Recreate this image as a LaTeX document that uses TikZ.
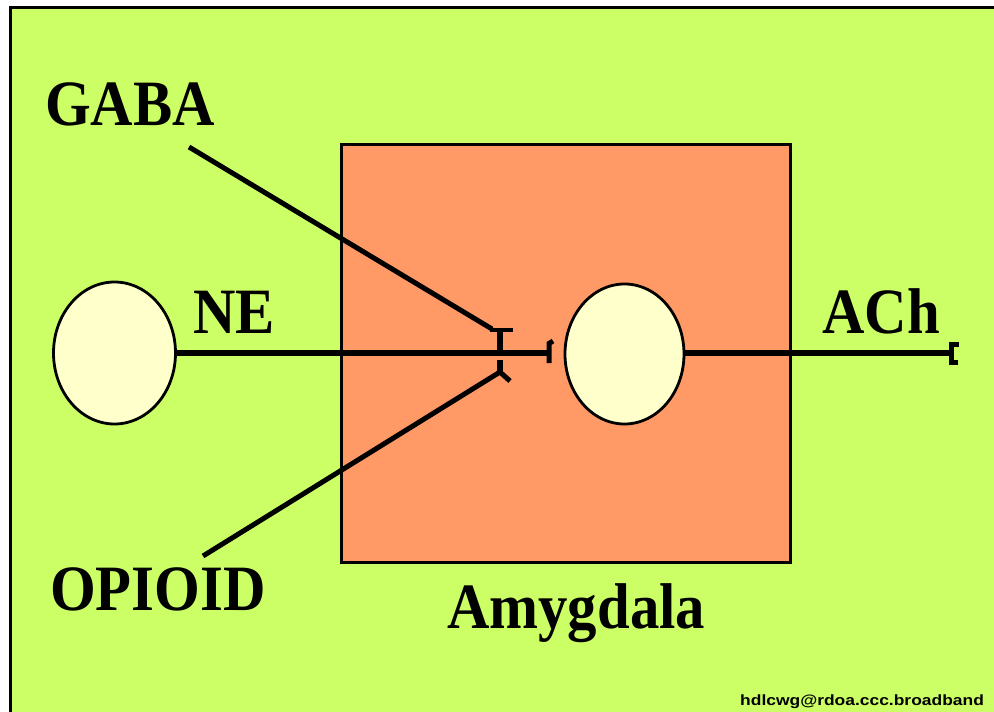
\documentclass[tikz,border=0pt]{standalone}
\usepackage{fontspec}
\setmainfont{Liberation Serif}
\setsansfont{Liberation Sans}
\usepackage{xcolor}
\usepackage{tikz}
\usetikzlibrary{positioning, calc, shapes.geometric}
\definecolor{limebg}{RGB}{204,255,102}
\definecolor{amygorange}{RGB}{255,153,102}
\definecolor{cellcream}{RGB}{255,255,204}
\newcommand{\tall}[1]{\scalebox{1}[1.1]{#1}}

\begin{document}
\begin{tikzpicture}[
  x=1bp, y=-1bp,
  lbl/.style={font=\fontsize{59}{60}\selectfont\bfseries, inner sep=0pt, anchor=base west},
  cell/.style={ellipse, draw=black, line width=2.8bp, fill=cellcream, inner sep=0pt},
  axon/.style={line width=6bp, draw=black},
  fibre/.style={line width=5bp, draw=black},
  knob/.style={line width=5bp, draw=black, line cap=butt}
]
  \useasboundingbox (0,0) rectangle (994,712);
  % background panel, frame only on top and left
  \fill[limebg] (10.5,7.5) rectangle (994,712);
  \draw[line width=3.5bp] (10.5,712) -- (10.5,7.5) -- (994,7.5);

  % amygdala region
  \node[draw=black, line width=3bp, fill=amygorange, minimum width=449bp, minimum height=417bp, inner sep=0pt] (amyg) at (565.5,353.5) {};
  \node[lbl] (amyglab) at (447,628) {\tall{Amygdala}};

  % cells
  \node[cell, minimum width=122bp, minimum height=142bp] (necell) at (114.5,353) {};
  \node[cell, minimum width=119bp, minimum height=140bp] (achcell) at (624.5,354) {};

  % terminals
  \coordinate (neend) at (549,352.5);
  \coordinate (achend) at (951.5,352.5);
  \coordinate (gabastart) at (189,147);
  \coordinate (gabaend) at (492,329);
  \coordinate (opistart) at (203,556);
  \coordinate (opiend) at (500,372);

  % NE axon onto the ACh cell
  \draw[axon] (necell.east |- neend) -- (neend);
  \draw[knob] ($(neend)+(0,10.5)$) -- ($(neend)+(0,-9)$) -- ++(4,-2.5);
  \node[lbl] (nelab) at (193,333) {\tall{NE}};

  % ACh output
  \draw[axon] (achcell.east |- achend) -- (achend);
  \draw[knob] ($(achend)+(7,-8.5)$) -- ($(achend)+(0,-8.5)$) -- ($(achend)+(0,9.5)$) -- ++(6,0);
  \node[lbl] (achlab) at (822,333) {\tall{ACh}};

  % GABA terminal on the NE axon
  \node[lbl] (gabalab) at (45,126) {\tall{GABA}};
  \draw[fibre] (gabastart) -- (gabaend);
  \draw[line width=4.5bp] ($(gabaend)+(-2,1)$) -- ++(23,0);
  \draw[axon] ($(gabaend)+(8,1)$) -- ++(0,20);

  % OPIOID terminal on the NE axon
  \node[lbl] (opilab) at (50,610) {\tall{OPIOID}};
  \draw[fibre] (opistart) -- (opiend) -- ++(10,9);
  \draw[axon] (opiend) -- ++(0,-12);

  % credit line
  \node[font=\sffamily\bfseries\fontsize{17.5}{18}\selectfont, inner sep=0pt, anchor=base west] (credit) at (740,705) {\scalebox{1}[0.85]{hdlcwg@rdoa.ccc.broadband}};
\end{tikzpicture}
\end{document}
